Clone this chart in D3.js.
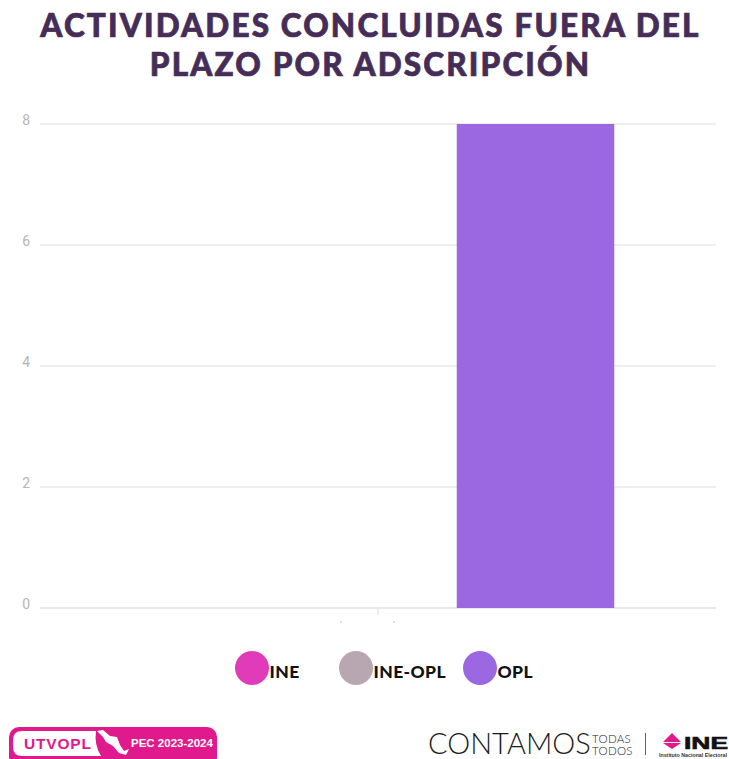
<!DOCTYPE html>
<html>
<head>
<meta charset="utf-8">
<script src="https://cdnjs.cloudflare.com/ajax/libs/d3/7.8.5/d3.min.js"></script>
<style>
  html, body { margin: 0; padding: 0; background: #fff; }
  svg { display: block; }
  text { font-family: Lato, sans-serif; }
</style>
</head>
<body>
<svg id="chart" width="729" height="759"></svg>
<script>
const titleLines = ['ACTIVIDADES CONCLUIDAS FUERA DEL', 'PLAZO POR ADSCRIPCIÓN'];
const categories = [''];
const seriesNames = ['INE', 'INE-OPL', 'OPL'];
const seriesValues = [0, 0, 8];
const seriesColours = ['#e03bb8', '#b8a6b1', '#9b68e2'];
const yTicks = [0, 2, 4, 6, 8];

const svg = d3.select('#chart');

// title
svg.append('g').selectAll('text')
  .data(titleLines)
  .enter().append('text')
  .attr('x', 370.5)
  .attr('y', (d, i) => 37 + i * 39)
  .attr('text-anchor', 'middle')
  .style('font-size', '31.5px')
  .style('font-weight', 900)
  .style('letter-spacing', '2.15px')
  .style('fill', '#452d58')
  .style('stroke', '#452d58')
  .style('stroke-width', 0.7)
  .text(d => d);

const y = d3.scaleLinear().domain([0, 8]).range([608, 124]);
const x0 = d3.scaleBand().domain(categories).range([40, 716]);
const x1 = d3.scaleBand().domain(seriesNames).range([141.75, 614.25].map(v => v - 40));

// grid
svg.append('g').selectAll('line')
  .data(yTicks)
  .enter().append('line')
  .attr('x1', 40)
  .attr('x2', 716)
  .attr('y1', d => y(d))
  .attr('y2', d => y(d))
  .style('stroke', '#e8e8e8')
  .style('stroke-width', d => d === 0 ? 2 : 1.5);

const yAxis = svg.append('g')
  .attr('transform', 'translate(40,0)')
  .call(d3.axisLeft(y).tickValues(yTicks).tickSize(0).tickPadding(10));
yAxis.select('.domain').remove();
yAxis.selectAll('text')
  .style('font-family', 'Roboto, sans-serif')
  .style('font-size', '14px')
  .style('fill', '#b5b5b5')
  .attr('dy', '0.03em');

// bars
svg.append('g').selectAll('rect')
  .data(seriesValues)
  .enter().append('rect')
  .attr('x', (d, i) => x0('') + x1(seriesNames[i]))
  .attr('width', x1.bandwidth())
  .attr('y', d => y(d))
  .attr('height', d => y(0) - y(d))
  .style('fill', (d, i) => seriesColours[i]);

// category tick and what is left of its label
const tickX = x0('') + x0.bandwidth() / 2;
svg.append('line')
  .attr('x1', tickX).attr('x2', tickX)
  .attr('y1', 608).attr('y2', 615)
  .style('stroke', '#dcdcdc');
svg.append('g').selectAll('circle')
  .data([-37, 16])
  .enter().append('circle')
  .attr('cx', d => tickX + d)
  .attr('cy', 622)
  .attr('r', 0.8)
  .style('fill', '#b5b5b5');

// legend
const legendDotX = [252, 356, 480];
const legend = svg.append('g').selectAll('g')
  .data(seriesNames)
  .enter().append('g')
  .attr('transform', (d, i) => `translate(${legendDotX[i]},668)`);
legend.append('circle')
  .attr('r', 17)
  .style('fill', (d, i) => seriesColours[i]);
legend.append('text')
  .attr('x', 17.5)
  .attr('y', 9.5)
  .style('font-size', '17.5px')
  .style('font-weight', 900)
  .style('letter-spacing', '0.4px')
  .style('fill', '#111')
  .text(d => d);

// UTVOPL badge
const badge = svg.append('g');
badge.append('rect')
  .attr('x', 9).attr('y', 727).attr('width', 208).attr('height', 40).attr('rx', 10)
  .style('fill', '#e0198c');
badge.append('path')
  .attr('d', 'M22,731 H96 Q94,745 101,756 H22 Q13,756 13,747 V740 Q13,731 22,731 Z')
  .style('fill', '#fff');
badge.append('text')
  .attr('x', 24).attr('y', 749)
  .style('font-family', 'Liberation Sans, sans-serif')
  .style('font-size', '15.5px')
  .style('font-weight', 700)
  .style('letter-spacing', '0.8px')
  .style('fill', '#e0198c')
  .text('UTVOPL');
badge.append('path')
  .attr('d', 'M97,731 L103,730 L110,736 L117,737 L120,745 L124,751 L129,749 L126,755 L119,753 L113,746 L106,742 L103,737 Z')
  .style('fill', '#fff');
badge.append('text')
  .attr('x', 131).attr('y', 747)
  .style('font-family', 'Liberation Sans, sans-serif')
  .style('font-size', '11.5px')
  .style('font-weight', 700)
  .style('fill', '#fff')
  .text('PEC 2023-2024');

// CONTAMOS / INE logos
const logos = svg.append('g');
logos.append('text')
  .attr('x', 428).attr('y', 754)
  .style('font-size', '29px')
  .style('font-weight', 300)
  .style('fill', '#1a1a1a')
  .text('CONTAMOS');
logos.append('g').selectAll('text')
  .data(['TODAS', 'TODOS'])
  .enter().append('text')
  .attr('x', 592)
  .attr('y', (d, i) => 743 + i * 11.5)
  .style('font-size', '11.5px')
  .style('font-weight', 300)
  .style('letter-spacing', '0.3px')
  .style('fill', '#222')
  .text(d => d);
logos.append('line')
  .attr('x1', 645.5).attr('x2', 645.5)
  .attr('y1', 733).attr('y2', 755)
  .style('stroke', '#e0198c');
logos.append('path')
  .attr('d', 'M672,733 L681,742 L663,742 Z M663,743 L681,743 L672,749 Z')
  .style('fill', '#e0198c');
logos.append('text')
  .attr('x', 684).attr('y', 749)
  .attr('textLength', 44)
  .attr('lengthAdjust', 'spacingAndGlyphs')
  .style('font-family', 'Liberation Sans, sans-serif')
  .style('font-size', '16px')
  .style('font-weight', 700)
  .style('stroke', '#111')
  .style('stroke-width', 0.6)
  .style('fill', '#111')
  .text('INE');
logos.append('text')
  .attr('x', 659).attr('y', 756.5)
  .attr('textLength', 68)
  .attr('lengthAdjust', 'spacingAndGlyphs')
  .style('font-family', 'Liberation Sans, sans-serif')
  .style('font-size', '4.8px')
  .style('font-weight', 700)
  .style('fill', '#333')
  .text('Instituto Nacional Electoral');
</script>
</body>
</html>
